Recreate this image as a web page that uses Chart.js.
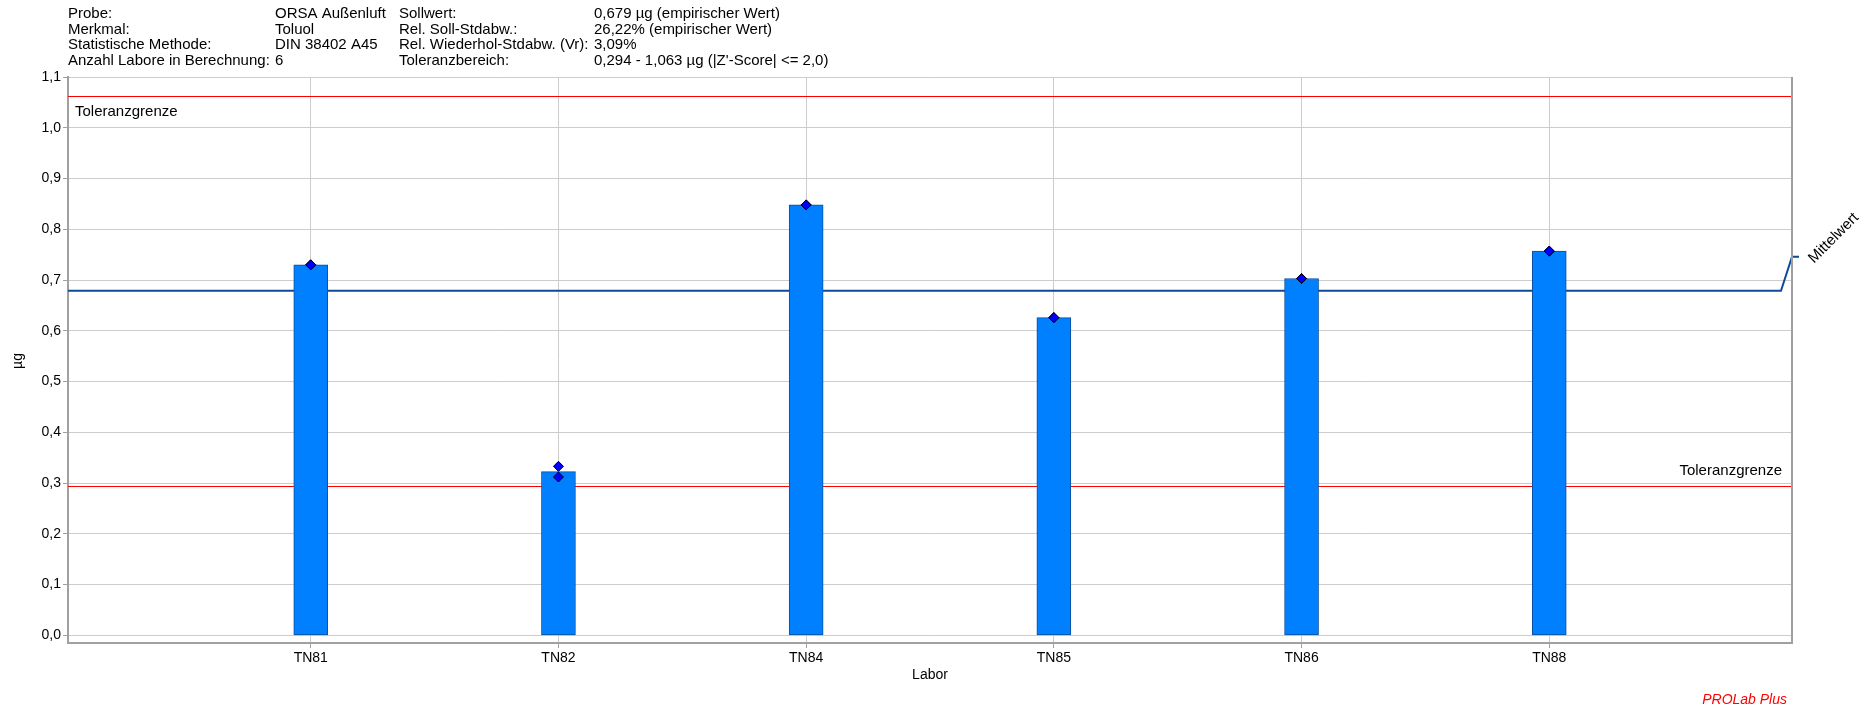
<!DOCTYPE html>
<html>
<head>
<meta charset="utf-8">
<script src="https://cdn.jsdelivr.net/npm/chart.js@4/dist/chart.umd.min.js"></script>
<style>
  html, body { margin: 0; padding: 0; background: #fff; }
  #wrap { width: 1866px; height: 709px; position: relative; }
</style>
</head>
<body>
<div id="wrap"><canvas id="chart"></canvas></div>
<script>
// Ringversuch Toluol — Einzelwerte je Labor
const labs = ['TN81', 'TN82', 'TN84', 'TN85', 'TN86', 'TN88'];
const rep1 = [0.730, 0.333, 0.848, 0.626, 0.703, 0.757];
const rep2 = [0.730, 0.312, 0.848, 0.626, 0.703, 0.757];
const yTicks = [0, 0.1, 0.2, 0.3, 0.4, 0.5, 0.6, 0.7, 0.8, 0.9, 1.0, 1.1];

const sollwert = 0.679;
const tolLower = 0.294;
const tolUpper = 1.063;

// Kopfzeilen: [Bezeichnung, Wert, Bezeichnung, Wert]
const headerRows = [
    ['Probe:', 'ORSA Außenluft', 'Sollwert:', '0,679 µg (empirischer Wert)'],
    ['Merkmal:', 'Toluol', 'Rel. Soll-Stdabw.:', '26,22% (empirischer Wert)'],
    ['Statistische Methode:', 'DIN 38402 A45', 'Rel. Wiederhol-Stdabw. (Vr):', '3,09%'],
    ['Anzahl Labore in Berechnung:', '6', 'Toleranzbereich:', '0,294 - 1,063 µg (|Z\'-Score| <= 2,0)'],
];
const headerCols = [68, 275, 399, 594];

const FONT = '"Liberation Sans", Arial, sans-serif';
const fmt = v => v.toFixed(1).replace('.', ',');

const barPoints = labs.map((l, i) => ({ x: i + 1, y: (rep1[i] + rep2[i]) / 2 }));
const dotPoints = labs.flatMap((l, i) => [{ x: i + 1, y: rep1[i] }, { x: i + 1, y: rep2[i] }]);

// Hintergrund + Kopfzeilen + Achsentitel
const decorPlugin = {
    id: 'decor',
    beforeDraw(chart) {
        const ctx = chart.ctx;
        ctx.save();
        ctx.fillStyle = '#fff';
        ctx.fillRect(0, 0, chart.width, chart.height);
        ctx.fillStyle = '#000';
        ctx.font = `15px ${FONT}`;
        ctx.textBaseline = 'middle';
        ctx.textAlign = 'left';
        headerRows.forEach((row, r) => {
            row.forEach((txt, c) => ctx.fillText(txt, headerCols[c], 14 + r * 15.6));
        });
        ctx.restore();
    },
    // Toleranzgrenzen und Mittelwert hinter den Balken
    beforeDatasetsDraw(chart) {
        const ctx = chart.ctx;
        const { left, right } = chart.chartArea;
        const ys = chart.scales.y;
        ctx.save();
        ctx.strokeStyle = '#ff0000';
        ctx.lineWidth = 1;
        [tolUpper, tolLower].forEach(v => {
            const py = Math.round(ys.getPixelForValue(v)) + 0.5;
            ctx.beginPath();
            ctx.moveTo(left, py);
            ctx.lineTo(right, py);
            ctx.stroke();
        });
        ctx.fillStyle = '#000';
        ctx.font = `15px ${FONT}`;
        ctx.textBaseline = 'middle';
        ctx.textAlign = 'left';
        ctx.fillText('Toleranzgrenze', left + 7, ys.getPixelForValue(tolUpper) + 16);
        ctx.textAlign = 'right';
        ctx.fillText('Toleranzgrenze', right - 10, ys.getPixelForValue(tolLower) - 15);

        const my = ys.getPixelForValue(sollwert);
        ctx.strokeStyle = '#0d4a9a';
        ctx.lineWidth = 2;
        ctx.beginPath();
        ctx.moveTo(left, my);
        ctx.lineTo(right - 11, my);
        ctx.lineTo(right, my - 34);
        ctx.lineTo(right + 7, my - 34);
        ctx.stroke();
        ctx.restore();
    },
    afterDraw(chart) {
        const ctx = chart.ctx;
        const { left, right, top, bottom } = chart.chartArea;
        const ys = chart.scales.y;
        ctx.save();
        // rechter Rahmen
        ctx.strokeStyle = '#a0a0a0';
        ctx.lineWidth = 2;
        ctx.beginPath();
        ctx.moveTo(right, top);
        ctx.lineTo(right, bottom);
        ctx.stroke();

        ctx.fillStyle = '#000';
        ctx.font = `15px ${FONT}`;
        ctx.textBaseline = 'middle';
        // Mittelwert-Beschriftung
        const my = ys.getPixelForValue(sollwert);
        ctx.save();
        ctx.translate(right + 19, my - 30);
        ctx.rotate(-Math.PI / 4);
        ctx.textAlign = 'left';
        ctx.fillText('Mittelwert', 0, 0);
        ctx.restore();

        // Achsentitel
        ctx.font = `14px ${FONT}`;
        ctx.textAlign = 'center';
        ctx.fillText('Labor', (left + right) / 2, 675);
        ctx.save();
        ctx.translate(18, (top + bottom) / 2 + 1);
        ctx.rotate(-Math.PI / 2);
        ctx.fillText('µg', 0, 0);
        ctx.restore();

        ctx.fillStyle = '#ff0000';
        ctx.font = `italic 14px ${FONT}`;
        ctx.textAlign = 'right';
        ctx.fillText('PROLab Plus', 1787, 700);
        ctx.restore();
    }
};

new Chart(document.getElementById('chart'), {
    data: {
        datasets: [
            {
                type: 'scatter',
                data: dotPoints,
                order: 0,
                pointStyle: 'rectRot',
                pointRadius: 5,
                pointHoverRadius: 5,
                backgroundColor: '#0000ff',
                borderColor: '#000',
                borderWidth: 1,
            },
            {
                type: 'bar',
                data: barPoints,
                order: 1,
                barThickness: 34,
                backgroundColor: '#0080ff',
                borderColor: '#0a4f9c',
                borderWidth: 1,
                borderSkipped: false,
            },
        ],
    },
    options: {
        responsive: true,
        maintainAspectRatio: false,
        animation: false,
        events: [],
        layout: { padding: { top: 77, right: 74, left: 0, bottom: 0 } },
        plugins: {
            legend: { display: false },
            tooltip: { enabled: false },
        },
        scales: {
            x: {
                type: 'linear',
                min: 0.02,
                max: 6.98,
                offset: false,
                afterBuildTicks: axis => { axis.ticks = labs.map((l, i) => ({ value: i + 1 })); },
                afterFit: axis => { axis.height = 66; },
                ticks: {
                    color: '#000',
                    font: { family: FONT, size: 14 },
                    padding: 2,
                    maxRotation: 0,
                    callback: v => labs[v - 1],
                },
                grid: { offset: false, color: '#cccccc', lineWidth: 1, tickLength: 5, tickColor: '#a0a0a0' },
                border: { color: '#a0a0a0', width: 2 },
            },
            y: {
                type: 'linear',
                min: -0.015,
                max: 1.1,
                afterBuildTicks: axis => { axis.ticks = yTicks.map(v => ({ value: v })); },
                afterFit: axis => { axis.width = 68; },
                ticks: {
                    color: '#000',
                    font: { family: FONT, size: 14 },
                    padding: 2,
                    callback: v => fmt(v),
                },
                grid: { color: '#cccccc', lineWidth: 1, tickLength: 5, tickColor: '#a0a0a0' },
                border: { color: '#a0a0a0', width: 2 },
            },
        },
    },
    plugins: [decorPlugin],
});
</script>
</body>
</html>
